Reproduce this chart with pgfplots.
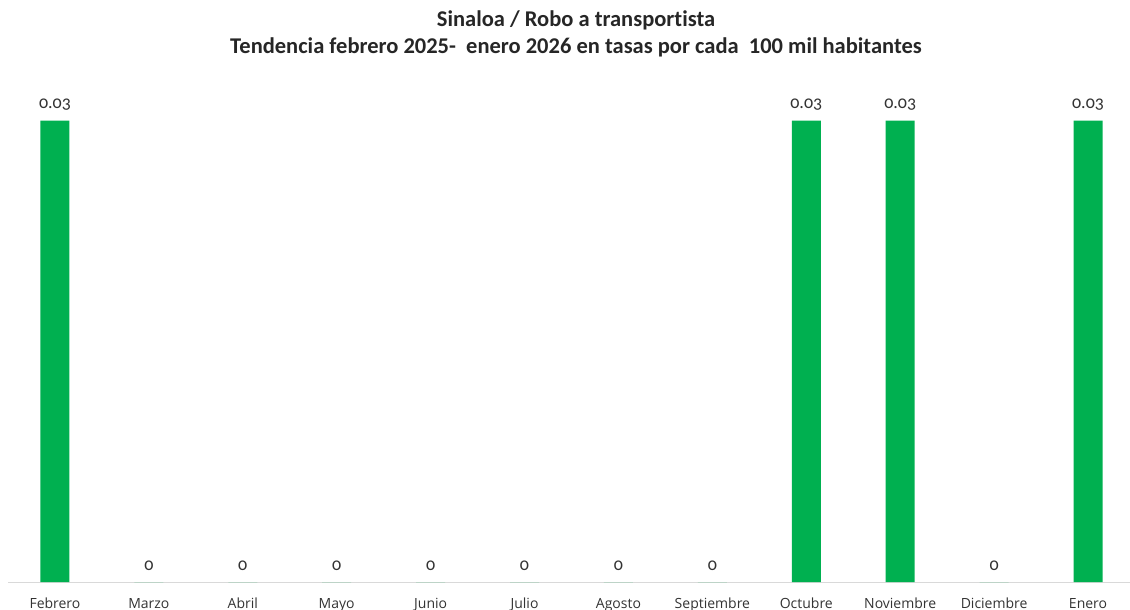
\documentclass[border=0pt]{standalone}
\usepackage{fontspec}
\setmainfont[Ligatures={NoCommon}]{Carlito}
\newfontfamily\tickfont{Open Sans}
\newfontfamily\valfont[Numbers=OldStyle]{Carlito}
\usepackage{pgfplots}
\pgfplotsset{compat=1.18}
\definecolor{bargreen}{HTML}{00B050}
\definecolor{axisgray}{HTML}{D9D9D9}
\begin{document}
\begin{tikzpicture}
\path[use as bounding box] (0,0) rectangle (1130bp,610bp);
\begin{axis}[
  at={(8bp,28bp)}, anchor=south west,
  scale only axis,
  width=1127bp, height=492bp,
  xmin=-0.5, xmax=11.5,
  ymin=0, ymax=0.032,
  axis x line*=bottom,
  axis y line=none,
  x axis line style={draw=axisgray, line width=1pt},
  xtick={0,...,11},
  xticklabels={Febrero,Marzo,Abril,Mayo,Junio,Julio,Agosto,Septiembre,Octubre,Noviembre,Diciembre,Enero},
  xticklabel style={font=\tickfont\fontsize{14bp}{15bp}\selectfont, text=black!80, anchor=base, yshift=-26bp},
  major tick length=0pt,
  ybar, bar width=29bp,
  point meta=explicit symbolic,
  nodes near coords,
  every node near coord/.append style={font=\valfont\fontsize{18bp}{19bp}\selectfont, text=black!80, anchor=base, inner sep=0pt, yshift=12bp},
  clip=false,
]
\addplot[fill=bargreen, draw=none] coordinates {
 (0,0.03) [0.03]
 (1,0) [0]
 (2,0) [0]
 (3,0) [0]
 (4,0) [0]
 (5,0) [0]
 (6,0) [0]
 (7,0) [0]
 (8,0.03) [0.03]
 (9,0.03) [0.03]
 (10,0) [0]
 (11,0.03) [0.03]
};
\end{axis}
\node[font=\bfseries\fontsize{22.5bp}{24bp}\selectfont, text=black!85] at (576bp,590bp) {Sinaloa / Robo a transportista};
\node[font=\bfseries\fontsize{22.5bp}{24bp}\selectfont, text=black!85] at (576bp,563bp) {Tendencia febrero 2025-\ \ enero 2026 en tasas por cada\ \ 100 mil habitantes};
\end{tikzpicture}
\end{document}
